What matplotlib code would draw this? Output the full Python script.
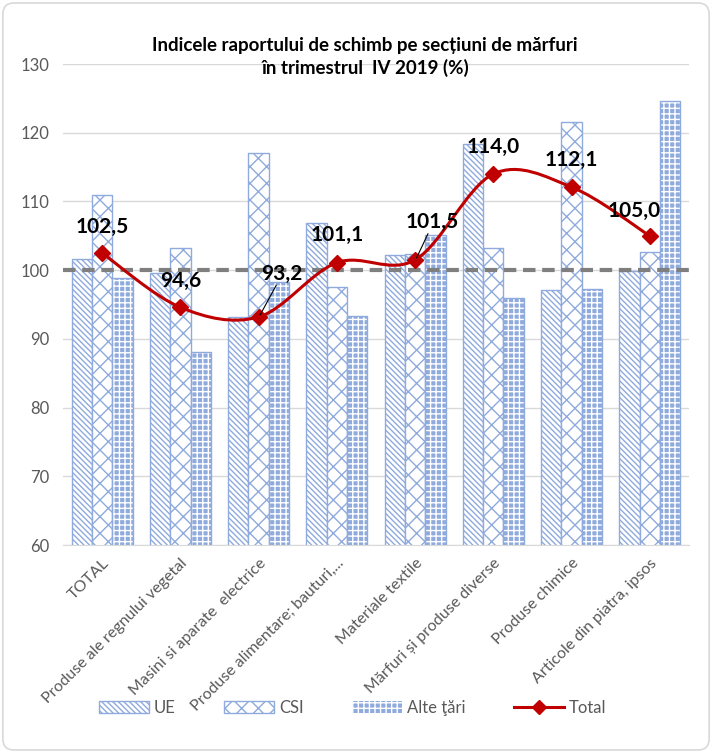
import numpy as np
import matplotlib as mpl
import matplotlib.pyplot as plt
from matplotlib.path import Path
from matplotlib.patches import PathPatch, FancyBboxPatch, Patch
from matplotlib.lines import Line2D

categories = ['TOTAL', 'Produse ale regnului vegetal', 'Masini si aparate  electrice',
              'Produse alimentare; bauturi,...', 'Materiale textile',
              'Mărfuri și produse diverse', 'Produse chimice', 'Articole din piatra, ipsos']
ue = [101.7, 99.6, 93.2, 106.9, 102.2, 118.4, 97.1, 99.9]
csi = [111.0, 103.3, 117.0, 97.6, 102.4, 103.2, 121.6, 102.6]
alte = [98.8, 88.1, 98.3, 93.4, 105.1, 96.0, 97.2, 124.6]
total = [102.5, 94.6, 93.2, 101.1, 101.5, 114.0, 112.1, 105.0]
total_labels = ['102,5', '94,6', '93,2', '101,1', '101,5', '114,0', '112,1', '105,0']

blue = '#8FAADC'
red = '#C00000'
grey_txt = '#595959'

mpl.rcParams['font.family'] = ['Lato', 'DejaVu Sans']
mpl.rcParams['hatch.linewidth'] = 1.0

fig = plt.figure(figsize=(7.12, 7.53), dpi=100)
border = FancyBboxPatch((0.004, 0.004), 0.992, 0.992, boxstyle='round,pad=0,rounding_size=0.015',
                        transform=fig.transFigure, fc='white', ec='#D9D9D9', lw=1.2, zorder=-5)
fig.patches.append(border)
ax = fig.add_axes([0.0885, 0.276, 0.879, 0.639])
ax.set_facecolor('none')

x = np.arange(len(categories))
w = 0.26
ue_hatch = '\\' * 6

# UE
ax.bar(x - w, ue, w, color='white', edgecolor=blue, hatch=ue_hatch, lw=1.0, zorder=2)
# CSI
ax.bar(x, csi, w, color='white', edgecolor=blue, hatch='xx', lw=1.0, zorder=2)
# Alte tari
ax.bar(x + w, alte, w, color=blue, edgecolor='white', hatch='+++', lw=0, zorder=2)
ax.bar(x + w, alte, w, fill=False, edgecolor=blue, lw=1.0, zorder=2)

ax.axhline(100, color='#7F7F7F', lw=3, ls=(0, (3, 1.6)), zorder=3)

# smoothed line through the total values (Catmull-Rom as Bezier)
pts = np.column_stack([x, total]).astype(float)
verts = [tuple(pts[0])]
codes = [Path.MOVETO]
for i in range(len(pts) - 1):
    p0 = pts[i - 1] if i > 0 else pts[i]
    p1, p2 = pts[i], pts[i + 1]
    p3 = pts[i + 2] if i + 2 < len(pts) else pts[i + 1]
    c1 = p1 + (p2 - p0) / 6
    c2 = p2 - (p3 - p1) / 6
    verts += [tuple(c1), tuple(c2), tuple(p2)]
    codes += [Path.CURVE4] * 3
ax.add_patch(PathPatch(Path(verts, codes), fill=False, ec=red, lw=2.2, zorder=4))
ax.plot(x, total, ls='none', marker='D', ms=8, color=red, zorder=5)

offsets = [(0, 3.8), (0, 3.9), (0.3, 6.3), (0, 4.0), (0.22, 5.5), (0, 4.0), (0, 4.0), (-0.2, 3.6)]
for i, (lab, (dx, dy)) in enumerate(zip(total_labels, offsets)):
    ax.text(x[i] + dx, total[i] + dy, lab, ha='center', va='center', fontsize=15,
            fontweight='bold', color='black', zorder=6)
    if i in (2, 4):
        ax.plot([x[i] + 0.02, x[i] + dx * 0.75], [total[i] + 0.3, total[i] + dy - 1.7],
                color='black', lw=0.8, zorder=6)

ax.set_ylim(60, 130)
ax.set_xlim(-0.5, len(categories) - 0.5)
ax.set_yticks(range(60, 131, 10))
ax.yaxis.grid(True, color='#D9D9D9', lw=1)
ax.set_axisbelow(True)
for s in ['top', 'right', 'left']:
    ax.spines[s].set_visible(False)
ax.spines['bottom'].set_color('#D9D9D9')
ax.tick_params(axis='both', length=0, colors=grey_txt, labelsize=12)
ax.tick_params(axis='y', pad=10)
ax.tick_params(axis='x', pad=8)
ax.set_xticks(x)
ax.set_xticklabels(categories, rotation=45, ha='right', rotation_mode='anchor', fontsize=11.5)

fig.text(0.513, 0.924, 'Indicele raportului de schimb pe secțiuni de mărfuri\nîn trimestrul  IV 2019 (%)',
         ha='center', va='center', fontsize=13.5, fontweight='bold', linespacing=1.35)

handles = [Patch(facecolor='white', edgecolor=blue, hatch=ue_hatch, lw=1),
           Patch(facecolor='white', edgecolor=blue, hatch='xx', lw=1),
           Patch(facecolor=blue, edgecolor='white', hatch='+++', lw=0),
           Line2D([], [], color=red, lw=2.2, marker='D', ms=7)]
fig.legend(handles, ['UE', 'CSI', 'Alte ţări', 'Total'], loc='center', bbox_to_anchor=(0.495, 0.06),
           ncol=4, frameon=False, fontsize=12, columnspacing=2.9, handlelength=3.0, handletextpad=0.3,
           labelcolor=grey_txt)

fig.savefig('out.png', dpi=100)
